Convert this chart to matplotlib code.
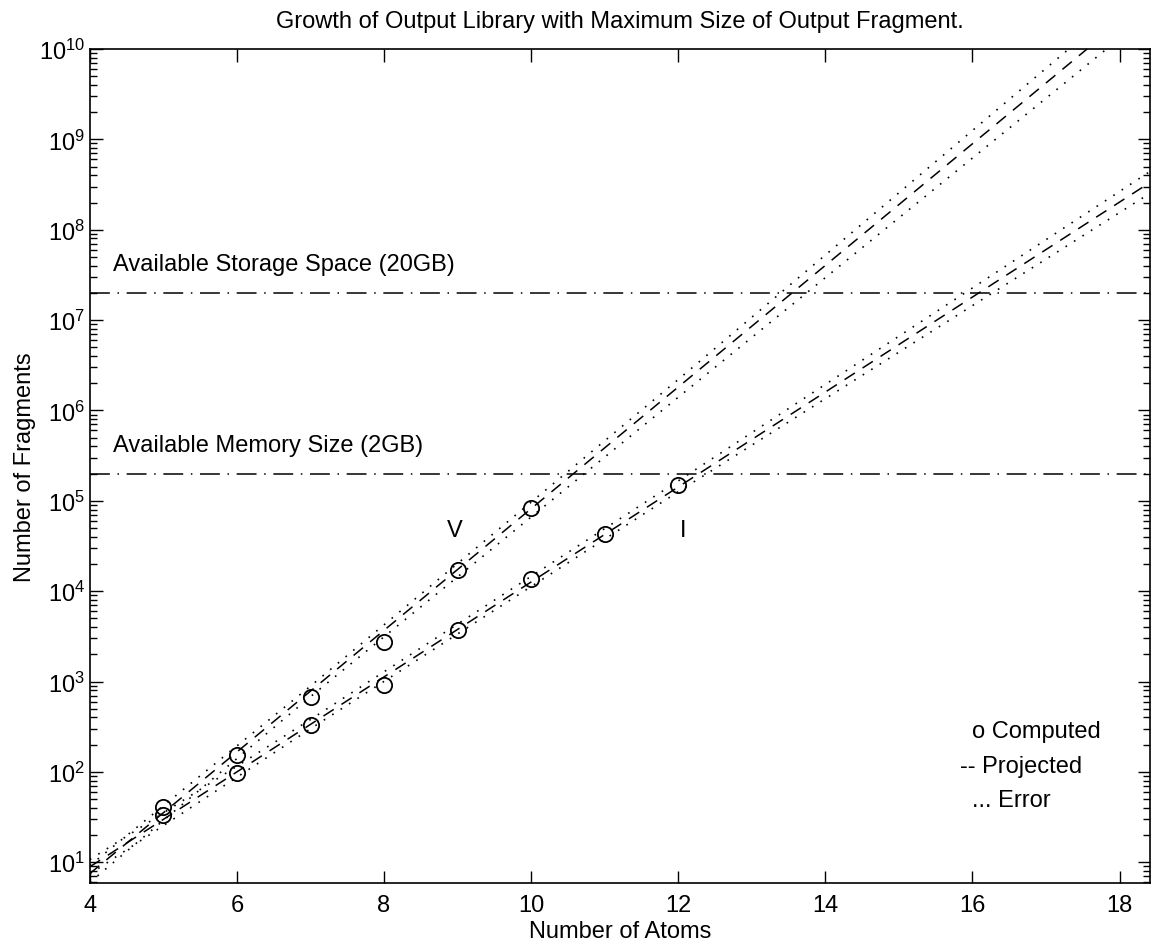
"""
Рост выходной библиотеки фрагментов.
"""

import matplotlib
matplotlib.use('Agg')
import matplotlib.pyplot as plt
from matplotlib.ticker import LogLocator, NullFormatter, FixedLocator

plt.rcParams['font.family'] = ['Liberation Sans', 'DejaVu Sans']
plt.rcParams['mathtext.fontset'] = 'custom'
plt.rcParams['mathtext.rm'] = 'Liberation Sans'
plt.rcParams['mathtext.it'] = 'Liberation Sans'

# Вычисленные точки
atoms_v = [5, 6, 7, 8, 9, 10]
frags_v = [41, 152, 675, 2750, 17000, 83000]
atoms_i = [5, 6, 7, 8, 9, 10, 11, 12]
frags_i = [33, 96, 330, 920, 3700, 13500, 43000, 148000]

# Прогноз (прямые в лог. масштабе)
proj_x = [4, 18.5]
proj_v = [7.5, 4.3e10]
proj_i = [8.9, 3.7e8]

# Границы ошибки
err_x = [4, 7, 12, 18.5]
err_v_hi = [9.2, 890, 2.2e6, 6.6e10]
err_v_lo = [6.0, 680, 1.4e6, 2.8e10]
err_i_hi = [10.7, 380, 1.66e5, 4.9e8]
err_i_lo = [7.4, 300, 1.26e5, 2.8e8]

# Ограничения
storage = 2.0e7
memory = 2.0e5

y_major = [1e1, 1e2, 1e3, 1e4, 1e5, 1e6, 1e7, 1e8, 1e9, 1e10]

fig = plt.figure(figsize=(11.52, 9.45), dpi=100)
ax = fig.add_axes([0.078, 0.0646, 0.920, 0.8825])

dotted = (0, (1, 5))
dashed = (0, (8, 6))
dashdot = (0, (13, 5, 1, 5))

ax.plot(proj_x, proj_v, color='black', lw=1.1, linestyle=dashed)
ax.plot(proj_x, proj_i, color='black', lw=1.1, linestyle=dashed)
for ys in (err_v_hi, err_v_lo, err_i_hi, err_i_lo):
    ax.plot(err_x, ys, color='black', lw=1.2, linestyle=dotted)

ax.plot(atoms_v, frags_v, 'o', mfc='none', mec='black', ms=11, mew=1.3)
ax.plot(atoms_i, frags_i, 'o', mfc='none', mec='black', ms=11, mew=1.3)

ax.axhline(storage, color='black', lw=1.1, linestyle=dashdot)
ax.axhline(memory, color='black', lw=1.1, linestyle=dashdot)

fs = 17
ax.text(4.31, 4.2e7, 'Available Storage Space (20GB)', fontsize=fs, va='center')
ax.text(4.31, 4.1e5, 'Available Memory Size (2GB)', fontsize=fs, va='center')

ax.text(8.96, 4.7e4, 'V', fontsize=fs, ha='center', va='center')
ax.text(12.06, 4.7e4, 'I', fontsize=fs, ha='center', va='center')

# Текстовая легенда
ax.text(16.0, 285, 'o Computed', fontsize=fs, va='center')
ax.text(15.83, 115, '-- Projected', fontsize=fs, va='center')
ax.text(16.0, 49, '... Error', fontsize=fs, va='center')

ax.set_yscale('log')
ax.set_xlim(4, 18.41)
ax.set_ylim(5.9, 1e10)
ax.set_xticks([4, 6, 8, 10, 12, 14, 16, 18])
ax.yaxis.set_major_locator(FixedLocator(y_major))
ax.yaxis.set_minor_locator(LogLocator(base=10, subs=range(2, 10), numticks=20))
ax.yaxis.set_minor_formatter(NullFormatter())

ax.tick_params(which='both', direction='in', top=True, right=True,
               labelsize=fs, width=1)
ax.tick_params(axis='x', pad=8)
ax.tick_params(which='major', length=9)
ax.tick_params(which='minor', length=5)
for s in ax.spines.values():
    s.set_linewidth(1.2)

ax.set_title('Growth of Output Library with Maximum Size of Output Fragment.',
             fontsize=fs, pad=16)
ax.set_xlabel('Number of Atoms', fontsize=fs, labelpad=3)
ax.set_ylabel('Number of Fragments', fontsize=fs, labelpad=2)

plt.savefig('out.png', dpi=100)
plt.close()
